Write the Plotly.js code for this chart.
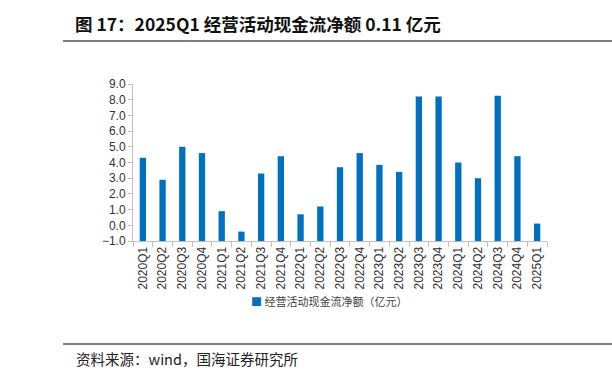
<!DOCTYPE html>
<html><head><meta charset="utf-8">
<script src="https://cdn.plot.ly/plotly-3.0.1.min.js"></script>
<style>html,body{margin:0;padding:0;background:#fff;}#c{width:612px;height:382px;}</style>
</head><body><div id="c"></div>
<script>
const categories = ['2020Q1','2020Q2','2020Q3','2020Q4','2021Q1','2021Q2','2021Q3','2021Q4','2022Q1','2022Q2','2022Q3','2022Q4','2023Q1','2023Q2','2023Q3','2023Q4','2024Q1','2024Q2','2024Q3','2024Q4','2025Q1'];
const cashFlow = [4.3, 2.9, 5.0, 4.6, 0.9, -0.4, 3.3, 4.4, 0.7, 1.2, 3.7, 4.6, 3.85, 3.4, 8.2, 8.2, 4.0, 3.0, 8.25, 4.4, 0.11];
const seriesName = '经营活动现金流净额（亿元）';
const titleText = '图 17：2025Q1 经营活动现金流净额 0.11 亿元';
const sourceText = '资料来源：wind，国海证券研究所';
const axisMin = -1, axisMax = 9;
const barColor = '#0070C0';

const W = 612, H = 382;
const L = 133, R = 547, T = 84, B = 241;
const pw = R - L, ph = B - T;
const px = x => (x - L) / pw;
const py = y => (B - y) / ph;

const trace = {
  type: 'bar',
  x: categories,
  base: axisMin,
  y: cashFlow.map(v => v - axisMin),
  name: seriesName,
  marker: {color: barColor},
  hoverinfo: 'skip',
  showlegend: false
};

const layout = {
  width: W, height: H,
  margin: {l: L, r: W - R, t: T, b: H - B, pad: 0},
  paper_bgcolor: '#fff', plot_bgcolor: '#fff',
  font: {family: 'Liberation Sans, Arial, Noto Sans CJK SC, sans-serif', color: '#404040', size: 12},
  bargap: 0.68,
  showlegend: false,
  title: {text: '<b>' + titleText + '</b>', xref: 'container', yref: 'container', x: 75 / W, xanchor: 'left',
    y: 1 - 25 / H, yanchor: 'middle', font: {size: 17.5, family: 'Noto Sans CJK SC, sans-serif', color: '#111'}},
  xaxis: {
    type: 'category', range: [-0.5, categories.length - 0.5],
    showline: true, linecolor: '#BFBFBF', linewidth: 1,
    ticks: 'outside', tickson: 'boundaries', ticklen: 5, tickcolor: '#BFBFBF',
    tickangle: -90, tickfont: {size: 12, color: '#333'}, showgrid: false, zeroline: false
  },
  yaxis: {
    range: [axisMin, axisMax], dtick: 1, tickformat: '.1f',
    showline: true, linecolor: '#BFBFBF', linewidth: 1,
    ticks: 'outside', ticklen: 4, tickcolor: '#BFBFBF',
    tickfont: {size: 12, color: '#333'}, showgrid: false, zeroline: false
  },
  shapes: [
    {type: 'line', xref: 'paper', yref: 'paper', x0: px(63), x1: px(612), y0: py(41), y1: py(41), line: {color: '#555', width: 1.5}},
    {type: 'line', xref: 'paper', yref: 'paper', x0: px(63), x1: px(612), y0: py(344), y1: py(344), line: {color: '#555', width: 1.5}}
  ],
  annotations: [
    {text: '<span style="color:' + barColor + '">■</span> ' + seriesName, xref: 'paper', yref: 'paper',
      x: px(249), y: py(301), xanchor: 'left', yanchor: 'middle',
      showarrow: false, font: {size: 11, family: 'Noto Sans CJK SC, sans-serif', color: '#404040'}},
    {text: sourceText, xref: 'paper', yref: 'paper', x: px(74), y: py(358), xanchor: 'left', yanchor: 'middle',
      showarrow: false, font: {size: 14.5, family: 'Noto Sans CJK SC, sans-serif', color: '#222'}}
  ]
};

Plotly.newPlot('c', [trace], layout, {displayModeBar: false, staticPlot: true});
</script></body></html>
